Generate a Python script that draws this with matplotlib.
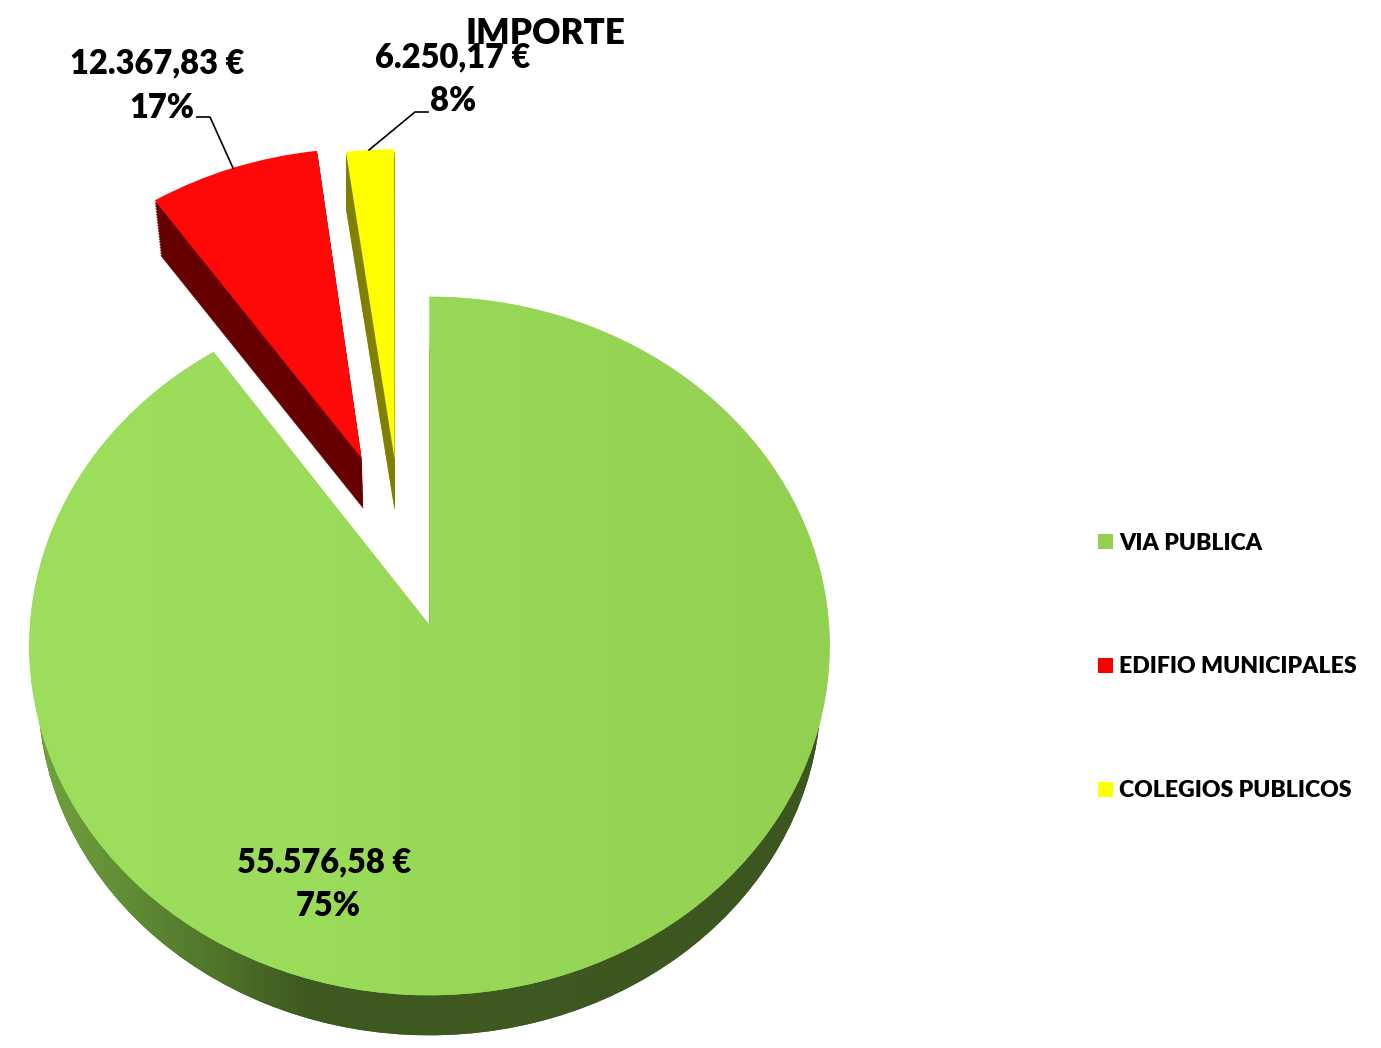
import numpy as np
import matplotlib
matplotlib.use("Agg")
import matplotlib.pyplot as plt
from matplotlib.patches import Wedge, Patch
from matplotlib.transforms import Transform
from matplotlib.colors import LinearSegmentedColormap

# Data
categories = ["VIA PUBLICA", "EDIFIO MUNICIPALES", "COLEGIOS PUBLICOS"]
drawn_shares = [90.4, 7.5, 2.1]          # slice sizes as actually drawn
amount_labels = ["55.576,58 €", "12.367,83 €", "6.250,17 €"]
percent_labels = ["75%", "17%", "8%"]
slice_offsets = [(0.0, 0.0), (-0.175, 0.493), (-0.09, 0.49)]
side_shrink = [0.022, 0.022, 0.0]
slice_turn = [0.0, 0.0, 0.35]
top_colors = ["#96D856", "#FF0808", "#FFFF00"]
side_colors = ["#3A5220", "#660000", "#7F7F00"]

plt.rcParams["font.family"] = ["Lato", "DejaVu Sans"]
W, H = 1381, 1048
fig = plt.figure(figsize=(W / 100, H / 100), dpi=100)
ax = fig.add_axes([0, 0, 1, 1])


class Perspective(Transform):
    """Unit pie plane -> figure pixels, tilted; z moves towards the bottom face."""
    input_dims = 2
    output_dims = 2
    is_separable = False
    has_inverse = False

    def __init__(self, z=0.0, shrink=0.022):
        super().__init__()
        self.z = z
        self.shrink = shrink

    def transform_non_affine(self, v):
        v = np.asarray(v, dtype=float)
        x, y = v[:, 0], v[:, 1]
        w = 1 + 0.0602 * y
        X = 429.5 + 399.5 * (1 - self.shrink * self.z) * x / w
        Y = 625 - 348 * y / w + self.z * (46.5 + 6.5 * y)
        return np.column_stack([X, Y])


wedges, _ = ax.pie(drawn_shares, colors=top_colors, startangle=90, counterclock=False)
for w, off, turn in zip(wedges, slice_offsets, slice_turn):
    w.set_center(off)
    w.set_theta1(w.theta1 + turn)
    w.set_theta2(w.theta2 + turn)
    w.set_transform(Perspective(0.0) + ax.transData)
    w.set_linewidth(0)

grad = np.linspace(0, 1, 600)[None, :]
extent = (0, W, H, 0)


def shaded(patch, stops, zorder):
    cmap = LinearSegmentedColormap.from_list("s", stops)
    im = ax.imshow(grad, extent=extent, aspect="auto", cmap=cmap, vmin=0, vmax=1,
                   zorder=zorder, interpolation="bilinear")
    im.set_clip_path(patch)
    return im


# green body
g = wedges[0]
g_side = Wedge(g.center, 1, g.theta1, g.theta2, facecolor=side_colors[0], linewidth=0,
               transform=Perspective(1.0) + ax.transData, zorder=1)
ax.add_patch(g_side)
shaded(g_side, [(0.0, "#74A63E"), (70 / W, "#6C9A3A"), (150 / W, "#5C8632"),
                (230 / W, "#4C7028"), (300 / W, "#3F5A21"), (1.0, "#3A5220")], 1.5)
g.set_zorder(2)
shaded(g, [(0.0, "#9DDF5C"), (300 / W, "#9BDC5B"), (430 / W, "#97D957"),
           (700 / W, "#94D353"), (830 / W, "#92D050"), (1.0, "#92D050")], 2.5)

# exploded slices: side layers then top face
for i in (1, 2):
    w = wedges[i]
    for z in np.linspace(1, 0.05, 20):
        ax.add_patch(Wedge(w.center, 1, w.theta1, w.theta2, facecolor=side_colors[i],
                           edgecolor=side_colors[i], linewidth=0.3,
                           transform=Perspective(z, side_shrink[i]) + ax.transData,
                           zorder=3))
    w.set_zorder(3.5)

# leader lines
ax.plot([197, 210, 233], [117, 117, 168], color="black", lw=1.2, zorder=4)
ax.plot([369, 415, 428], [150, 112, 112], color="black", lw=1.2, zorder=4)

label_fs = 23.5
txt = dict(ha="center", va="center", fontweight="heavy", color="black", zorder=5)
ax.text(545, 34, "IMPORTE", fontsize=25.2, **txt)
ax.text(324, 862, amount_labels[0], fontsize=label_fs, **txt)
ax.text(328, 906, percent_labels[0], fontsize=label_fs, **txt)
ax.text(157, 63, amount_labels[1], fontsize=label_fs, **txt)
ax.text(162, 108, percent_labels[1], fontsize=label_fs, **txt)
ax.text(453, 57, amount_labels[2], fontsize=label_fs, **txt)
ax.text(453, 101, percent_labels[2], fontsize=label_fs, **txt)

# legend
handles = [Patch(facecolor=c, linewidth=0) for c in ["#92D050", "#FF0000", "#FFFF00"]]
leg_fs = 16.6
px = leg_fs * 100 / 72
ax.legend(handles, categories, loc="upper left", bbox_to_anchor=(1098, 532.5),
          bbox_transform=ax.transData, frameon=False, borderpad=0, borderaxespad=0,
          prop=dict(family="Lato", weight="heavy", size=leg_fs),
          handlelength=15 / px, handleheight=15 / px, handletextpad=6.5 / px,
          labelspacing=(126 - px * 1.0) / px)

ax.set_xlim(0, W)
ax.set_ylim(H, 0)
ax.set_aspect("auto")
ax.axis("off")
fig.savefig("out.png", dpi=100, facecolor="white")
